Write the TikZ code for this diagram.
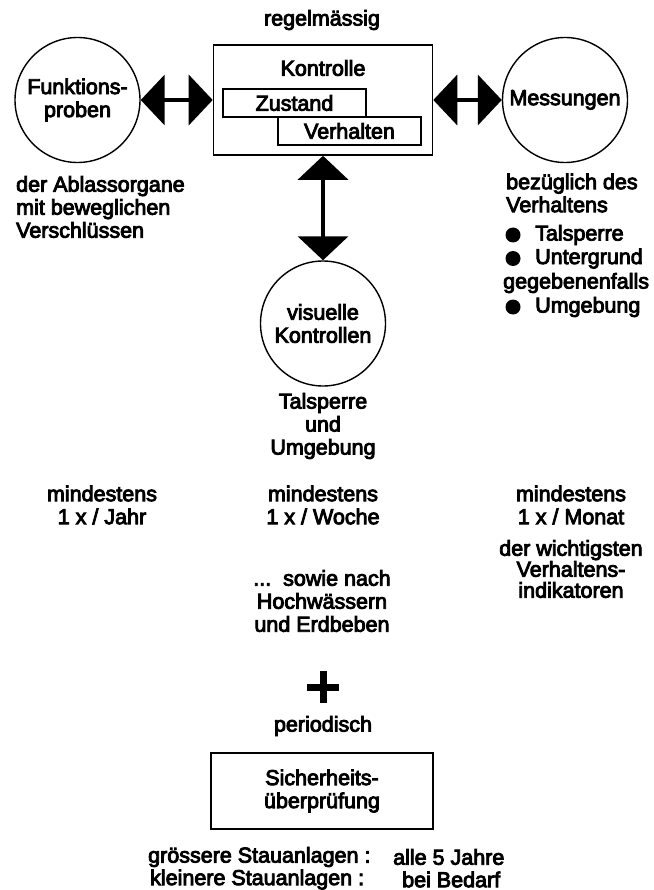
\documentclass[tikz,border=0pt]{standalone}
\usepackage{fontspec}
\usetikzlibrary{arrows.meta}
\newfontfamily\dfont[FakeBold=4]{Liberation Sans}
\newcommand\dsize{\dfont\fontsize{21.5}{23}\selectfont}
\newcommand\dsizetight{\dfont\fontsize{21.5}{21}\selectfont}
\tikzset{
  txt/.style={font=\dsize, inner sep=0pt, align=center},
  bigbox/.style={draw, line width=1.6pt, minimum width=219pt, minimum height=110pt, inner sep=0pt},
  subbox/.style={draw, fill=white, line width=1.3pt, minimum width=143pt, minimum height=28pt, inner sep=0pt, font=\dsize},
  ring/.style={draw, circle, line width=1.4pt, minimum size=125pt, inner sep=0pt, font=\dsize, align=center},
  dot/.style={circle, fill=black, minimum size=15pt, inner sep=0pt},
  fat/.style={line width=4pt, {Triangle[length=24pt,width=50pt]}-{Triangle[length=24pt,width=50pt]}},
}
\begin{document}
\begin{tikzpicture}[x=1pt, y=-1pt]
  % page frame
  \fill[white] (0,0) rectangle (653,890);
  \useasboundingbox (0,0) rectangle (653,890);

  % central control box with its two inner boxes
  \node[txt] (reg) at (322,20) {regelmässig};
  \node[bigbox] (ctl) at (323,100) {};
  \node[txt] (ctltitle) at (323,68) {Kontrolle};
  \node[subbox] (zus) at (294.5,103) {Zustand};
  \node[subbox] (ver) at (349.5,131) {Verhalten};

  % the three kinds of checks
  \node[ring] (fp) at (77.5,100) {Funktions-\\proben};
  \node[ring] (ms) at (565,100) {Messungen};
  \node[ring] (vk) at (323,323.5) {visuelle\\Kontrollen};

  \draw[fat] (fp) -- (ctl);
  \draw[fat] (ctl) -- (ms);
  \draw[fat] (ctl.south) -- (vk.north);

  % notes under the left circle
  \node[txt, anchor=west, align=left] (abl) at (16,207)
    {der Ablassorgane\\mit beweglichen\\Verschlüssen};

  % notes under the right circle
  \node[txt, anchor=west, align=left] (bez) at (506,193) {bezüglich des\\Verhaltens};
  \node[dot] (d1) at (513,235) {};
  \node[txt, anchor=west] (l1) at (535,235) {Talsperre};
  \node[dot] (d2) at (513,258.5) {};
  \node[txt, anchor=west] (l2) at (535,258.5) {Untergrund};
  \node[txt, anchor=west] (gf) at (503,283) {gegebenenfalls};
  \node[dot] (d3) at (513,307) {};
  \node[txt, anchor=west] (l3) at (535,307) {Umgebung};

  % note under the lower circle
  \node[txt] (vkt) at (323,426) {Talsperre\\und\\Umgebung};

  % frequencies
  \node[txt] (fj) at (102,505) {mindestens\\1 x / Jahr};
  \node[txt] (fw) at (323,505) {mindestens\\1 x / Woche};
  \node[txt] (fm) at (571,505) {mindestens\\1 x / Monat};
  \node[txt, font=\dsizetight] (wi) at (571,569) {der wichtigsten\\Verhaltens-\\indikatoren};
  \node[txt] (sn) at (322,601) {...~~sowie nach\\Hochwässern\\und Erdbeben};

  % plus sign
  \draw[line width=7pt] (307,687) -- (339,687) (323,671) -- (323,703);

  % periodic safety review
  \node[txt] (per) at (323,726) {periodisch};
  \node[bigbox, minimum width=222pt, minimum height=76pt, font=\dsize, align=center] (sb) at (322,791)
    {Sicherheits-\\überprüfung};

  \node[txt, anchor=west] (gs) at (148,857) {grössere Stauanlagen :};
  \node[txt, anchor=west] (gj) at (393,857) {alle 5 Jahre};
  \node[txt, anchor=west] (ks) at (150,879.5) {kleinere Stauanlagen :};
  \node[txt, anchor=west] (kb) at (402,879.5) {bei Bedarf};
\end{tikzpicture}
\end{document}
